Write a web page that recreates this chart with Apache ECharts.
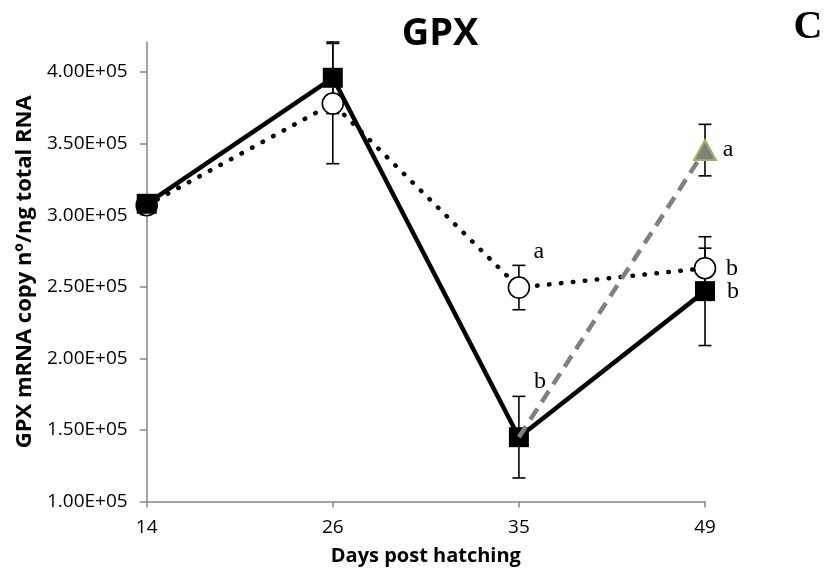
<!DOCTYPE html>
<html>
<head>
<meta charset="utf-8">
<script src="https://cdn.jsdelivr.net/npm/echarts@6/dist/echarts.min.js"></script>
<style>
html,body{margin:0;padding:0;background:#fff;}
#chart{width:826px;height:572px;}
</style>
</head>
<body>
<div id="chart"></div>
<script>
// ---- data ----
var categories = ['14', '26', '35', '49'];
var squareMean = [3.08e5, 3.96e5, 1.45e5, 2.47e5];
var squareErr  = [0, 0.25e5, 0.285e5, 0.38e5];
var circleMean = [3.07e5, 3.78e5, 2.495e5, 2.63e5];
var circleErr  = [0, 0.42e5, 0.155e5, 0.14e5];
var triMean    = [null, null, 1.45e5, 3.455e5];
var triErr     = [0, 0, 0, 0.18e5];
var squareLetters = ['', '', 'b', 'b'];
var circleLetters = ['', '', 'a', 'b'];
var triLetters    = ['', '', '', 'a'];
var yTickValues = [1.0e5, 1.5e5, 2.0e5, 2.5e5, 3.0e5, 3.5e5, 4.0e5];

// ---- styling ----
var sansFont = 'Open Sans';
var letterOffsets = {
  square: [[0,0],[0,0],[21,-55],[28,1]],
  circle: [[0,0],[0,0],[20,-36],[27,0]],
  tri:    [[0,0],[0,0],[0,0],[23,0]]
};
function fmtY(v){ return (v/1e5).toFixed(2) + 'E+05'; }

function buildData(means, letters, offsets){
  return means.map(function(v, i){
    var item = {value: (v === null ? '-' : v)};
    if (letters[i]) {
      item.label = {show: true, formatter: letters[i], position: 'inside', offset: offsets[i],
        fontFamily: 'Liberation Serif', fontSize: 24, color: '#000'};
    }
    return item;
  });
}
function errData(means, errs){
  var out = [];
  means.forEach(function(v, i){ if (v !== null && errs[i] > 0) out.push([i, v, errs[i]]); });
  return out;
}
function errRender(params, api){
  var i = api.value(0), m = api.value(1), e = api.value(2);
  var top = api.coord([i, m + e]);
  var bot = api.coord([i, m - e]);
  var cap = 6.5;
  var st = {stroke: '#000', lineWidth: 1.6};
  return {type: 'group', children: [
    {type: 'line', shape: {x1: top[0], y1: top[1], x2: bot[0], y2: bot[1]}, style: st},
    {type: 'line', shape: {x1: top[0]-cap, y1: top[1], x2: top[0]+cap, y2: top[1]}, style: st},
    {type: 'line', shape: {x1: bot[0]-cap, y1: bot[1], x2: bot[0]+cap, y2: bot[1]}, style: st}
  ]};
}

var triData = buildData(triMean, triLetters, letterOffsets.tri);
triData[2].symbol = 'none';

var chart = echarts.init(document.getElementById('chart'), null, {renderer: 'canvas'});
chart.setOption({
  animation: false,
  backgroundColor: '#fff',
  grid: {left: 146.7, right: 121, top: 42, bottom: 70.4, containLabel: false},
  graphic: [
    {type: 'text', x: 440, y: 34, style: {text: 'GPX', font: 'bold 38px "Open Sans"', fill: '#000', textAlign: 'center', textVerticalAlign: 'middle'}},
    {type: 'text', x: 808, y: 28, style: {text: 'C', font: 'bold 40px "Liberation Serif"', fill: '#000', textAlign: 'center', textVerticalAlign: 'middle'}}
  ],
  xAxis: {
    type: 'category', data: categories, boundaryGap: false,
    axisLine: {lineStyle: {color: '#868686', width: 1.5}},
    axisTick: {show: true, alignWithLabel: true, length: 6, lineStyle: {color: '#868686', width: 1.5}},
    axisLabel: {fontFamily: sansFont, fontSize: 19, color: '#000', margin: 16},
    name: 'Days post hatching', nameLocation: 'middle', nameGap: 45,
    nameTextStyle: {fontFamily: sansFont, fontSize: 20, fontWeight: 'bold', color: '#000'}
  },
  yAxis: {
    type: 'value', min: 1.0e5, max: 4.21e5, interval: 0.5e5,
    splitLine: {show: false},
    axisLine: {show: true, lineStyle: {color: '#868686', width: 1.5}},
    axisTick: {show: true, length: 7, customValues: yTickValues, lineStyle: {color: '#868686', width: 1.5}},
    axisLabel: {fontFamily: sansFont, fontSize: 19, color: '#000', margin: 19, customValues: yTickValues, formatter: fmtY},
    name: 'GPX mRNA copy nº/ng total RNA', nameLocation: 'middle', nameRotate: 90, nameGap: 111,
    nameTextStyle: {fontFamily: sansFont, fontSize: 22, fontWeight: 'bold', color: '#000'}
  },
  series: [
    {type: 'custom', name: 'errSquare', renderItem: errRender, data: errData(squareMean, squareErr), z: 1, silent: true},
    {type: 'custom', name: 'errCircle', renderItem: errRender, data: errData(circleMean, circleErr), z: 1, silent: true},
    {type: 'custom', name: 'errTri', renderItem: errRender, data: errData(triMean, triErr), z: 1, silent: true},
    {
      type: 'line', name: 'circle', data: buildData(circleMean, circleLetters, letterOffsets.circle),
      symbol: 'circle', symbolSize: 21, z: 2,
      lineStyle: {color: '#000', width: 4.5, type: [0.5, 11.5], cap: 'round'},
      itemStyle: {color: '#fff', borderColor: '#000', borderWidth: 1.6}
    },
    {
      type: 'line', name: 'square', data: buildData(squareMean, squareLetters, letterOffsets.square),
      symbol: 'rect', symbolSize: 20, z: 3,
      lineStyle: {color: '#000', width: 4.5},
      itemStyle: {color: '#000'}
    },
    {
      type: 'line', name: 'tri', data: triData, connectNulls: false,
      symbol: 'triangle', symbolSize: [22, 20], z: 4,
      lineStyle: {color: '#808080', width: 4.5, type: [13, 8]},
      itemStyle: {color: '#808080', borderColor: '#9bbb59', borderWidth: 2}
    }
  ]
});
</script>
</body>
</html>
